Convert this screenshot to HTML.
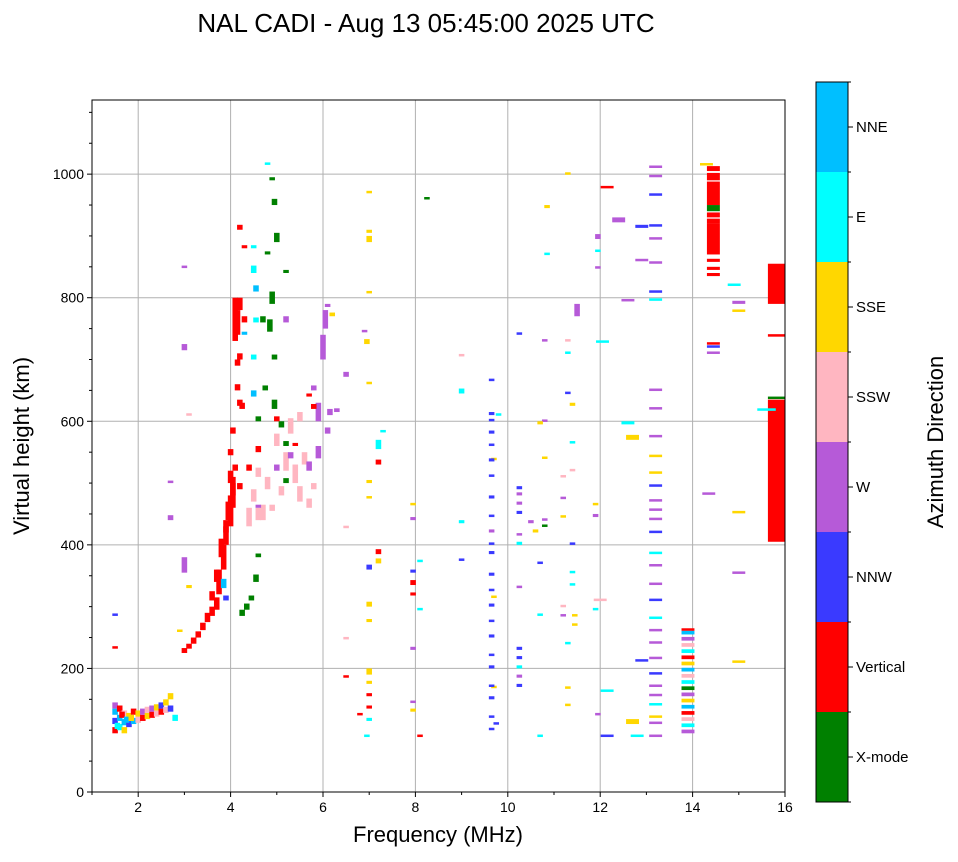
<!DOCTYPE html>
<html><head><meta charset="utf-8"><style>
body{margin:0;background:#fff;}
svg text{font-family:"Liberation Sans",sans-serif;}
</style></head><body>
<svg id="chart" width="958" height="857" xmlns="http://www.w3.org/2000/svg">
<rect width="958" height="857" fill="#fff"/>
<text x="426" y="32" font-size="26" text-anchor="middle">NAL CADI - Aug 13 05:45:00 2025 UTC</text>
<g id="grid"></g>
<g id="marks"></g>
<rect x="92" y="100" width="693" height="692" fill="none" stroke="#000" stroke-width="1"/>
<g id="axes"></g>
<text x="438" y="842" font-size="22" text-anchor="middle">Frequency (MHz)</text>
<text transform="translate(29,446) rotate(-90)" font-size="22" text-anchor="middle">Virtual height (km)</text>
<g id="cbar"></g>
<text transform="translate(943,442) rotate(-90)" font-size="22" text-anchor="middle">Azimuth Direction</text>
</svg>
<script>
const xTicks=[2,4,6,8,10,12,14,16];
const yTicks=[0,200,400,600,800,1000];
const dirNames=["X-mode","Vertical","NNW","W","SSW","SSE","E","NNE"];
const dirColors=["#008000","#ff0000","#3a3aff","#b65ad8","#ffb6c1","#ffd700","#00ffff","#00bfff"];

// narrow marks: frequency (MHz), base height (km), vertical extent (km), direction index
const freqs=[
1.5,1.5,1.5,1.5,1.6,1.6,1.6,1.7,1.7,1.7,1.8,1.8,1.9,1.9,2.0,2.0,2.1,2.1,2.2,2.2,2.3,2.3,2.4,2.4,2.5,2.5,2.6,2.6,2.7,2.7,2.8,1.55,1.65,1.75,1.85,
3.0,3.1,3.2,3.3,3.4,3.5,3.6,3.7,3.75,3.85,3.9,4.0,4.05,4.1,4.2,4.0,4.1,4.2,4.25,4.2,4.3,4.3,3.85,3.9,4.05,4.15,
4.25,4.35,4.45,4.55,4.6,4.9,4.95,5.0,4.8,5.2,4.9,4.85,4.7,4.95,4.95,5.1,5.2,4.6,4.75,5.2,
4.5,4.5,4.55,4.8,4.5,4.3,4.55,4.5,
4.4,4.5,4.6,4.7,4.8,5.0,5.2,5.3,5.4,5.5,5.6,5.7,5.5,5.8,4.9,5.1,4.6,
4.6,5.0,5.3,5.7,5.9,5.9,6.0,6.05,6.15,6.3,5.8,6.1,6.5,6.1,5.2,
4.6,4.4,5.0,5.8,5.4,5.7,
3.0,3.0,3.1,2.7,2.7,3.0,1.5,1.5,2.9,3.1,6.2,6.5,6.5,6.5,6.9,6.95,6.8,7.0,7.0,7.0,7.0,7.0,7.0,7.0,7.0,7.0,7.0,7.0,7.0,7.0,7.0,6.95,7.2,7.2,7.2,7.2,7.3,7.0,
7.95,7.95,7.95,7.95,7.95,7.95,7.95,7.95,8.1,8.1,8.1,8.25,
9.0,9.0,9.0,9.0,9.8,9.7,9.7,9.7,9.75,
9.65,9.65,9.65,9.65,9.65,9.65,9.65,9.65,9.65,9.65,9.65,9.65,9.65,9.65,9.65,9.65,9.65,9.65,9.65,9.65,9.65,9.65,9.65,
10.25,10.25,10.25,10.25,10.25,10.25,10.25,10.25,10.25,10.25,10.25,10.25,10.25,
10.5,10.6,10.7,10.7,10.7,10.8,10.8,10.85,10.85,10.8,10.8,10.7,10.8,11.3,11.2,11.2,11.2,11.2,11.2,11.3,11.3,11.3,11.3,11.3,11.3,11.4,11.4,11.4,11.4,11.4,11.4,11.45,11.45,11.5,11.95,11.95,11.95,11.9,11.9,11.9,11.95,12.0,12.05,12.15,12.15,12.15,12.4,12.6,12.6,12.7,12.7,12.9,12.9,12.9,12.8,
13.2,13.2,13.2,13.2,13.2,13.2,13.2,13.2,13.2,13.2,13.2,13.2,13.2,13.2,13.2,13.2,13.2,13.2,13.2,13.2,13.2,13.2,13.2,13.2,13.2,13.2,13.2,13.2,13.2,13.2,13.2,13.2,13.2,
13.9,13.9,13.9,13.9,13.9,13.9,13.9,13.9,13.9,13.9,13.9,13.9,13.9,13.9,13.9,13.9,13.9,13.9,
14.35,14.3,14.45,14.45,14.45,14.45,14.45,14.45,14.45,14.45,14.45,
14.9,15.0,15.0,15.0,15.0,15.0,
3.95,4.05,4.15,4.2,4.15,3.8,3.7,3.6,3.9,4.2,4.0,
14.45,14.45,14.45,14.45
];
const heights=[
95,110,125,135,100,115,130,95,108,122,105,118,110,125,112,122,115,125,118,128,120,130,122,132,125,135,128,140,130,150,115,102,120,112,115,
225,232,240,250,262,275,285,295,320,360,400,430,480,520,490,545,730,700,620,910,880,760,330,310,580,650,
285,295,310,340,380,990,950,890,870,840,790,745,760,700,620,590,560,600,650,500,
880,840,810,1015,700,740,760,640,
430,470,510,440,490,560,520,580,500,470,530,460,600,490,455,480,440,
460,520,540,520,540,600,700,750,610,615,650,580,672,785,760,
550,520,600,620,560,640,
715,355,330,440,500,850,285,232,260,610,770,185,248,428,745,725,125,890,905,970,660,500,475,360,300,275,190,175,155,135,115,90,555,530,385,370,583,808,
465,440,355,335,318,230,145,130,90,372,295,960,
705,645,435,375,610,537,315,168,110,
100,120,150,170,200,220,250,275,300,325,350,385,400,420,445,475,510,535,560,580,600,610,665,
170,185,200,215,230,330,400,415,450,465,480,490,740,
435,420,370,285,90,440,430,870,945,730,600,595,540,1000,510,475,445,300,285,240,168,140,730,710,645,625,565,520,400,355,335,285,270,770,895,875,848,465,445,295,125,310,728,978,163,90,922,795,595,570,110,913,860,212,90,
1010,995,965,915,895,855,808,795,650,620,575,542,515,495,470,455,440,420,385,365,335,310,280,260,240,215,190,170,155,140,120,110,90,
95,105,115,125,135,145,155,165,175,185,195,205,215,225,235,245,255,262,
482,1015,870,940,950,990,1005,835,725,710,720,
820,790,778,452,353,210,
440,460,740,780,690,380,340,310,420,625,500,
845,930,920,858
];
const spans=[
10,10,10,10,10,10,10,10,10,10,10,10,10,10,10,10,10,10,10,10,10,10,10,10,10,10,10,10,10,10,10,10,10,10,10,
8,8,10,10,12,15,15,20,40,40,30,50,30,10,10,10,70,10,10,8,5,10,15,8,10,10,
10,10,8,12,6,5,10,15,5,5,20,20,10,8,15,10,8,8,8,8,
5,12,10,4,8,5,8,10,
30,20,15,25,20,20,30,25,30,25,20,15,15,10,10,15,20,
5,10,10,15,20,30,40,30,10,6,8,10,8,5,10,
10,10,8,8,5,5,
10,25,5,8,4,2,4,4,3,3,6,4,3,3,3,8,3,10,5,3,4,5,4,8,8,5,10,5,5,5,5,3,15,8,8,8,3,3,
3,5,5,8,5,5,3,5,3,4,3,3,
4,8,5,3,3,4,3,4,3,
4,4,5,4,5,4,5,4,5,4,5,5,4,5,4,5,4,5,4,5,4,5,4,
5,5,5,5,5,4,5,4,5,5,5,5,4,
5,5,3,4,3,3,3,3,5,3,3,5,3,3,3,3,3,3,3,3,3,3,3,3,3,5,3,3,4,3,3,3,3,20,8,3,3,3,5,3,3,3,3,3,3,3,8,3,5,8,8,5,3,3,3,
4,4,4,4,3,4,4,4,3,3,3,4,4,3,4,4,4,3,4,4,4,3,4,4,4,4,4,4,4,4,4,4,3,
6,6,6,6,6,6,6,6,6,6,6,6,6,6,6,6,6,3,
3,3,50,10,38,12,8,5,3,3,3,
3,5,3,3,4,3,
30,40,40,20,10,30,20,15,20,10,20,
5,8,8,5
];
const dirs=[
1,2,7,3,6,7,1,5,7,4,2,5,7,1,4,5,1,3,5,4,1,3,4,5,1,2,4,5,2,5,6,6,1,7,5,
1,1,1,1,1,1,1,1,1,1,1,1,1,1,1,1,1,1,1,1,1,1,7,2,1,1,
0,0,0,0,0,0,0,0,0,0,0,0,0,0,0,0,0,0,0,0,
6,6,7,6,6,7,6,7,
4,4,4,4,4,4,4,4,4,4,4,4,4,4,4,4,4,
3,3,3,3,3,3,3,3,3,3,3,3,3,3,3,
1,1,1,1,1,1,
3,3,5,3,3,3,2,1,5,4,5,1,4,4,3,5,1,5,5,5,5,5,5,2,5,5,5,5,1,1,6,6,6,1,1,5,6,5,
5,3,2,1,1,3,3,5,1,6,6,0,
4,6,6,2,6,5,5,5,2,
2,2,2,2,2,2,2,2,2,2,2,2,2,3,2,2,2,2,2,2,2,2,2,
2,3,6,2,2,3,6,3,2,3,3,2,2,
3,5,2,6,6,3,0,6,5,3,3,5,5,5,4,3,5,4,3,6,5,5,4,6,2,5,6,4,2,6,6,5,5,3,3,6,3,5,3,6,3,4,6,1,6,2,3,3,6,5,5,2,3,2,6,
3,3,2,2,3,3,2,6,3,3,3,5,5,2,3,3,3,2,6,3,3,2,6,3,3,3,2,3,3,6,5,3,3,
3,6,4,1,7,5,3,0,6,4,7,5,1,6,4,3,7,1,
3,5,1,0,1,1,1,1,1,3,2,
6,3,5,5,3,5,
1,1,1,1,1,1,1,1,1,1,1,
1,1,1,1
];
// wide marks at right edge
const wideFreq=[15.63,15.63,15.63,15.63,15.4];
const wideH=[405,637,790,738,618];
const wideSpan=[230,3,65,3,3];
const wideWidth=[0.37,0.37,0.37,0.37,0.4];
const wideDir=[1,0,1,1,6];

const X0=92,X1=785,Y0=792,Y1=100,FMIN=1,FMAX=16,HMIN=0,HMAX=1120;
const xs=f=>X0+(f-FMIN)/(FMAX-FMIN)*(X1-X0);
const ys=h=>Y0-(h-HMIN)/(HMAX-HMIN)*(Y0-Y1);
const NS="http://www.w3.org/2000/svg";
function mk(tag,attrs,parent){const e=document.createElementNS(NS,tag);for(const k in attrs)e.setAttribute(k,attrs[k]);parent.appendChild(e);return e;}
const grid=document.getElementById('grid'),axes=document.getElementById('axes'),marks=document.getElementById('marks'),cbar=document.getElementById('cbar');
xTicks.forEach(t=>{const x=xs(t);
 const g=mk('line',{x1:x,x2:x,y1:Y1,y2:Y0,stroke:'#b0b0b0','stroke-width':1},grid);
 
 const tk=mk('line',{x1:x,x2:x,y1:Y0,y2:Y0+5,stroke:'#000'},axes);
 
 const tx=mk('text',{x:x,y:Y0+20,'font-size':14,'text-anchor':'middle'},axes);tx.textContent=t;
 });
for(let f=1;f<16;f+=2){const x=xs(f);const m=mk('line',{x1:x,x2:x,y1:Y0,y2:Y0+3,stroke:'#000'},axes);
 }
yTicks.forEach(t=>{const y=ys(t);
 if(t>0){const g=mk('line',{x1:X0,x2:X1,y1:y,y2:y,stroke:'#b0b0b0','stroke-width':1},grid);
 }
 const tk=mk('line',{x1:X0-5,x2:X0,y1:y,y2:y,stroke:'#000'},axes);
 
 const tx=mk('text',{x:X0-8,y:y+5,'font-size':14,'text-anchor':'end'},axes);tx.textContent=t;
 });
for(let h=50;h<1120;h+=50){if(h%200===0)continue;const y=ys(h);const m=mk('line',{x1:X0-3,x2:X0,y1:y,y2:y,stroke:'#000'},axes);
 }
function drawMark(f,h,s,w,d){
 const x=xs(f-w/2),x2=xs(f+w/2),yt=ys(h+s),yb=ys(h);
 const r=mk('rect',{x:x,y:yt,width:Math.max(2,x2-x),height:Math.max(2.5,yb-yt),fill:dirColors[d]},marks);
 
 }
for(let i=0;i<freqs.length;i++){const w=freqs[i]>=12?0.28:0.12;drawMark(freqs[i],heights[i],spans[i],w,dirs[i]);}
for(let i=0;i<wideFreq.length;i++){drawMark(wideFreq[i]+wideWidth[i]/2,wideH[i],wideSpan[i],wideWidth[i],wideDir[i]);}
// colorbar
const CB0=802,CB1=82,CX=816,CW=32,bin=(CB0-CB1)/dirNames.length;
dirNames.forEach((n,i)=>{const yb=CB0-i*bin;
 const r=mk('rect',{x:CX,y:yb-bin,width:CW,height:bin,fill:dirColors[i]},cbar);
 
 const tk=mk('line',{x1:CX+CW,x2:CX+CW+5,y1:yb-bin/2,y2:yb-bin/2,stroke:'#000'},cbar);
 
 const tx=mk('text',{x:CX+CW+8,y:yb-bin/2+5,'font-size':15},cbar);tx.textContent=n;
 });
for(let i=0;i<=dirNames.length;i++){const y=CB0-i*bin;const tk=mk('line',{x1:CX+CW,x2:CX+CW+3,y1:y,y2:y,stroke:'#000'},cbar);
 }
const fr=mk('rect',{x:CX,y:CB1,width:CW,height:CB0-CB1,fill:'none',stroke:'#000'},cbar);

</script>
</body></html>
